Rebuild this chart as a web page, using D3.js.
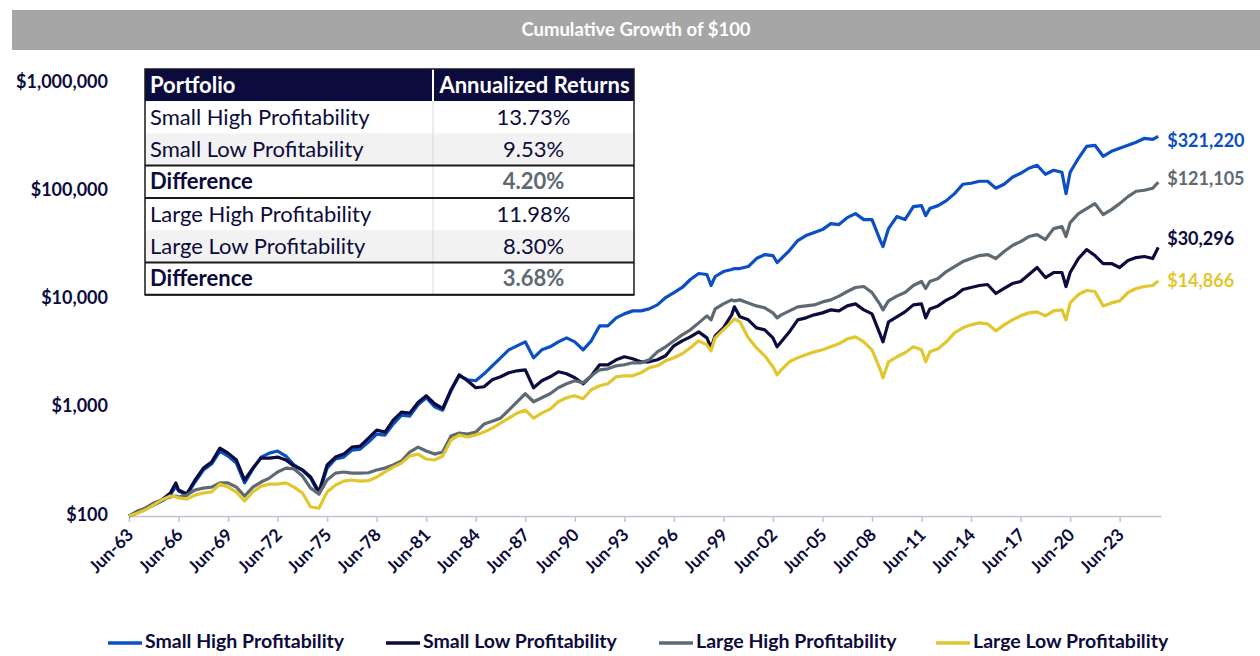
<!DOCTYPE html>
<html>
<head>
<meta charset="utf-8">
<script src="https://cdn.jsdelivr.net/npm/d3@7/dist/d3.min.js"></script>
<style>
  body { margin: 0; background: #fff; }
  svg { display: block; font-family: Lato, "Noto Sans", sans-serif; }
</style>
</head>
<body>
<svg id="chart" width="1260" height="656"></svg>
<script>
/* ----------------------- DATA -----------------------*/
// month-end dates, semi-annual with a few extra points at the big turns
var dates = [
  "1963-06","1963-12","1964-06","1964-12","1965-06","1965-12","1966-04","1966-06","1966-12",
  "1967-06","1967-12","1968-06","1968-12","1969-06","1969-12","1970-06","1970-12",
  "1971-06","1971-12","1972-06","1972-12","1973-06","1973-12","1974-06","1974-12",
  "1975-06","1975-12","1976-06","1976-12","1977-06","1977-12","1978-06","1978-12",
  "1979-06","1979-12","1980-06","1980-12","1981-06","1981-12","1982-06","1982-12",
  "1983-06","1983-12","1984-06","1984-12","1985-06","1985-12","1986-06","1986-12",
  "1987-06","1987-12","1988-06","1988-12","1989-06","1989-12","1990-06","1990-12",
  "1991-06","1991-12","1992-06","1992-12","1993-06","1993-12","1994-06","1994-12",
  "1995-06","1995-12","1996-06","1996-12","1997-06","1997-12","1998-06","1998-09","1998-12",
  "1999-06","1999-12","2000-02","2000-06","2000-12","2001-06","2001-12","2002-06","2002-09","2002-12",
  "2003-06","2003-12","2004-06","2004-12","2005-06","2005-12","2006-06","2006-12",
  "2007-06","2007-12","2008-06","2008-12","2009-02","2009-06","2009-12","2010-06","2010-12",
  "2011-06","2011-09","2011-12","2012-06","2012-12","2013-06","2013-12","2014-06","2014-12",
  "2015-06","2015-12","2016-06","2016-12","2017-06","2017-12","2018-06","2018-12",
  "2019-06","2019-12","2020-03","2020-06","2020-12","2021-06","2021-12","2022-06","2022-12",
  "2023-06","2023-12","2024-06","2024-12","2025-06","2025-10"];

var smallHigh = [
  100,107,116,126,138,156,189,170,156,
  206,266,302,398,358,308,202,272,
  350,381,398,358,296,266,224,160,
  277,336,350,406,415,482,571,559,
  706,855,837,1066,1237,1021,950,1435,
  1974,1813,1775,2060,2441,2893,3429,3733,
  4064,2893,3429,3655,4064,4424,4064,3429,
  4152,5709,5709,6766,7366,7851,7851,8191,
  8917,10430,11600,12910,15300,17380,17010,13470,16310,
  18130,18920,19320,19320,20160,23900,26020,25470,21950,23900,
  28330,35030,38950,41520,44240,50260,49210,57090,
  62150,54710,54710,35030,30840,45200,58320,54710,72120,
  73660,59560,69120,73660,81910,95040,116000,118500,123700,
  123700,106600,116000,134700,146600,163100,173800,143500,
  156300,149800,95040,149800,201600,260200,265800,210400,234000,
  249400,265800,283300,308400,301900,321220];

var smallLow = [
  100,107,118,129,141,163,202,174,160,
  215,277,315,424,381,329,215,277,
  343,343,350,329,289,266,229,167,
  296,350,373,433,442,524,622,596,
  769,911,892,1120,1291,1089,987,1466,
  2016,1775,1530,1563,1813,1932,2104,2195,
  2242,1530,1775,1932,2149,2060,1892,1666,
  1974,2494,2494,2773,2956,2833,2658,2658,
  2773,3019,3733,4152,4520,5026,4424,3578,4616,
  5471,7212,8547,6912,6484,5471,5244,4424,3655,4064,
  5026,6484,6766,7212,7524,8019,7851,8730,
  9108,8019,7366,4716,4064,6215,6912,7685,8917,
  9108,6766,8191,8730,9870,10750,12370,12910,13470,
  13760,11360,12640,14050,14660,17010,19740,15960,
  17750,17750,13180,17750,23900,28930,25470,21490,21490,
  19740,22900,24410,24940,23900,30296];

var largeHigh = [
  100,111,118,132,141,150,153,150,156,
  174,181,185,202,202,185,153,185,
  206,224,255,277,272,234,181,160,
  215,249,255,249,249,251,266,277,
  296,322,390,433,398,373,390,547,
  583,571,596,706,752,802,950,1136,
  1347,1136,1237,1347,1530,1666,1775,1701,
  1974,2242,2290,2441,2494,2602,2602,2773,
  3286,3655,4152,4716,5244,6085,7059,6484,8191,
  9108,9920,9708,9920,9304,8730,8367,7524,6766,7212,
  7851,8547,8730,8917,9504,9920,10750,11850,
  12910,13180,11600,8917,8019,9708,10750,11600,13470,
  14660,12640,14660,15630,18130,20160,22420,23900,25470,
  26020,23900,27730,31500,34290,38140,39790,35780,
  45200,47160,38140,51340,62150,69120,76850,60850,67660,
  76850,89170,100000,102100,106600,121105];

var largeLow = [
  100,106,114,127,141,153,150,147,143,
  156,163,167,197,185,166,138,167,
  189,197,197,202,185,163,121,118,
  167,193,210,215,210,212,229,255,
  283,308,358,373,336,329,358,503,
  559,536,559,596,648,721,802,892,
  950,802,892,971,1136,1237,1291,1211,
  1466,1596,1666,1932,1974,1974,2104,2340,
  2441,2715,2893,3150,3578,4152,3814,3357,4424,
  5244,6215,6624,6215,4424,3578,3019,2390,2016,2242,
  2658,2893,3084,3286,3429,3655,3895,4332,
  4520,4064,3429,2242,1892,2658,2956,3218,3655,
  3429,2658,3286,3503,4064,4921,5471,5832,6085,
  5956,5134,5832,6484,7059,7524,7685,7059,
  7851,8019,6484,9304,11120,12110,11850,8730,9304,
  9708,11600,12640,13180,13470,14866];

var seriesNames = ["Small High Profitability", "Small Low Profitability",
                   "Large High Profitability", "Large Low Profitability"];
var seriesValues = [smallHigh, smallLow, largeHigh, largeLow];
var endLabels = ["$321,220", "$30,296", "$121,105", "$14,866"];

var yTickValues = [100, 1000, 10000, 100000, 1000000];
var xTickYears = d3.range(1963, 2024, 3);

var tablePortfolios = ["Small High Profitability", "Small Low Profitability", "Difference",
                       "Large High Profitability", "Large Low Profitability", "Difference"];
var tableReturns = ["13.73%", "9.53%", "4.20%", "11.98%", "8.30%", "3.68%"];

/* ----------------------- STYLE -----------------------*/
var colors = ["#0a4fc3", "#0c0b3d", "#5d6a73", "#e2c62e"];
var textColor = "#0c0b3d";
var labelNudge = [6, -7, -2, 2];   // vertical nudge of the end labels

var svg = d3.select("#chart");

// parse "YYYY-MM" to the last day of that month
var parseMonth = d3.timeParse("%Y-%m");
function monthEnd(s) {
  return d3.timeDay.offset(d3.timeMonth.offset(parseMonth(s), 1), -1);
}
var parsedDates = dates.map(monthEnd);

var x = d3.scaleTime()
  .domain([monthEnd("1963-06"), monthEnd("2025-12")])
  .range([129, 1161]);

var y = d3.scaleLog()
  .domain([100, 1000000])
  .range([516, 83]);

/* ----------------------- TITLE BAR -----------------------*/
svg.append("rect")
  .attr("x", 12).attr("y", 10)
  .attr("width", 1248).attr("height", 40)
  .attr("fill", "#a6a6a6");

svg.append("text")
  .attr("x", 636).attr("y", 31)
  .attr("text-anchor", "middle")
  .attr("dominant-baseline", "middle")
  .attr("fill", "#fff")
  .style("font-size", "18.5px")
  .style("font-weight", "bold")
  .text("Cumulative Growth of $100");

/* ----------------------- AXES -----------------------*/
var xAxis = d3.axisBottom(x)
  .tickValues(xTickYears.map(function(yr) { return monthEnd(yr + "-06"); }))
  .tickSize(6)
  .tickSizeOuter(0)
  .tickFormat(d3.timeFormat("%b-%y"));

var gx = svg.append("g")
  .attr("transform", "translate(0," + y(100) + ")")
  .call(xAxis);

gx.select(".domain").attr("stroke", "#bcc7d3").attr("stroke-width", 1.5);
gx.selectAll(".tick line").attr("stroke", "#bcc7d3").attr("stroke-width", 1.5);
gx.selectAll(".tick text")
  .attr("fill", textColor)
  .style("font-size", "17.5px")
  .style("font-weight", "bold")
  .style("font-family", "Lato, sans-serif")
  .attr("text-anchor", "end")
  .attr("dy", null)
  .attr("y", 0)
  .attr("transform", "translate(5,20) rotate(-45)");

svg.append("g").selectAll("text")
  .data(yTickValues)
  .enter().append("text")
    .attr("x", 108)
    .attr("y", function(d) { return y(d); })
    .attr("text-anchor", "end")
    .attr("dominant-baseline", "middle")
    .attr("fill", textColor)
    .style("font-size", "18px")
    .style("font-weight", "bold")
    .text(function(d) { return "$" + d3.format(",")(d); });

/* ----------------------- LINES -----------------------*/
var line = d3.line()
  .x(function(d) { return x(d[0]); })
  .y(function(d) { return y(d[1]); });

seriesValues.forEach(function(vals, i) {
  var pts = vals.map(function(v, j) { return [parsedDates[j], v]; });
  svg.append("path")
    .datum(pts)
    .attr("fill", "none")
    .attr("stroke", colors[i])
    .attr("stroke-width", 3.2)
    .attr("stroke-linejoin", "round")
    .attr("d", line);

  var last = pts[pts.length - 1];
  svg.append("text")
    .attr("x", x(last[0]) + 9)
    .attr("y", y(last[1]) + labelNudge[i])
    .attr("dominant-baseline", "middle")
    .attr("fill", colors[i])
    .style("font-size", "18px")
    .style("font-weight", "bold")
    .text(endLabels[i]);
});

/* ----------------------- TABLE -----------------------*/
var tbl = { x: 145, y: 69, w: 489, split: 433, headH: 32, rowH: 32.3 };
var table = svg.append("g");

table.append("rect")
  .attr("x", tbl.x).attr("y", tbl.y)
  .attr("width", tbl.w).attr("height", tbl.headH)
  .attr("fill", "#0c0b3d");

table.append("line")
  .attr("x1", tbl.split).attr("x2", tbl.split)
  .attr("y1", tbl.y).attr("y2", tbl.y + tbl.headH)
  .attr("stroke", "#fff").attr("stroke-width", 2);

table.append("text")
  .attr("x", tbl.x + 5).attr("y", tbl.y + tbl.headH / 2 + 2)
  .attr("dominant-baseline", "middle")
  .attr("fill", "#fff")
  .style("font-size", "22px").style("font-weight", "bold")
  .text("Portfolio");

table.append("text")
  .attr("x", (tbl.split + tbl.x + tbl.w) / 2 + 1).attr("y", tbl.y + tbl.headH / 2 + 2)
  .attr("text-anchor", "middle")
  .attr("dominant-baseline", "middle")
  .attr("fill", "#fff")
  .style("font-size", "22px").style("font-weight", "bold")
  .text("Annualized Returns");

var rows = table.selectAll("g.row")
  .data(tablePortfolios)
  .enter().append("g")
    .attr("class", "row")
    .attr("transform", function(d, i) {
      return "translate(0," + (tbl.y + tbl.headH + i * tbl.rowH) + ")";
    });

rows.append("rect")
  .attr("x", tbl.x).attr("width", tbl.w).attr("height", tbl.rowH)
  .attr("fill", function(d, i) { return (i === 1 || i === 4) ? "#f2f2f2" : "#fff"; });

rows.append("line")
  .attr("x1", tbl.split).attr("x2", tbl.split)
  .attr("y1", 0).attr("y2", tbl.rowH)
  .attr("stroke", "#d9d9d9").attr("stroke-width", 1);

rows.append("text")
  .attr("x", tbl.x + 5).attr("y", tbl.rowH / 2 + 2)
  .attr("dominant-baseline", "middle")
  .attr("fill", textColor)
  .style("font-size", "22px")
  .style("font-weight", function(d) { return d === "Difference" ? "bold" : "normal"; })
  .text(function(d) { return d; });

rows.append("text")
  .attr("x", (tbl.split + tbl.x + tbl.w) / 2).attr("y", tbl.rowH / 2 + 2)
  .attr("text-anchor", "middle")
  .attr("dominant-baseline", "middle")
  .attr("fill", function(d) { return d === "Difference" ? "#5d6a73" : textColor; })
  .style("font-size", "22px")
  .style("font-weight", function(d) { return d === "Difference" ? "bold" : "normal"; })
  .text(function(d, i) { return tableReturns[i]; });

// dark rules above and below each Difference row
tablePortfolios.forEach(function(d, i) {
  if (d !== "Difference") return;
  [i, i + 1].forEach(function(k) {
    var yy = tbl.y + tbl.headH + k * tbl.rowH;
    table.append("line")
      .attr("x1", tbl.x).attr("x2", tbl.x + tbl.w)
      .attr("y1", yy).attr("y2", yy)
      .attr("stroke", "#1a1a1a").attr("stroke-width", 2);
  });
});

table.append("rect")
  .attr("x", tbl.x).attr("y", tbl.y)
  .attr("width", tbl.w).attr("height", tbl.headH + tablePortfolios.length * tbl.rowH)
  .attr("fill", "none")
  .attr("stroke", "#1a1a1a").attr("stroke-width", 1.5);

/* ----------------------- LEGEND -----------------------*/
var legendX = [108, 386, 659, 936];
var legend = svg.append("g").selectAll("g")
  .data(seriesNames)
  .enter().append("g")
    .attr("transform", function(d, i) { return "translate(" + legendX[i] + ",643)"; });

legend.append("line")
  .attr("x1", 0).attr("x2", 34)
  .attr("stroke", function(d, i) { return colors[i]; })
  .attr("stroke-width", 3.5);

legend.append("text")
  .attr("x", 37)
  .attr("dominant-baseline", "middle")
  .attr("fill", textColor)
  .style("font-size", "19.5px")
  .style("font-weight", "bold")
  .text(function(d) { return d; });
</script>
</body>
</html>
